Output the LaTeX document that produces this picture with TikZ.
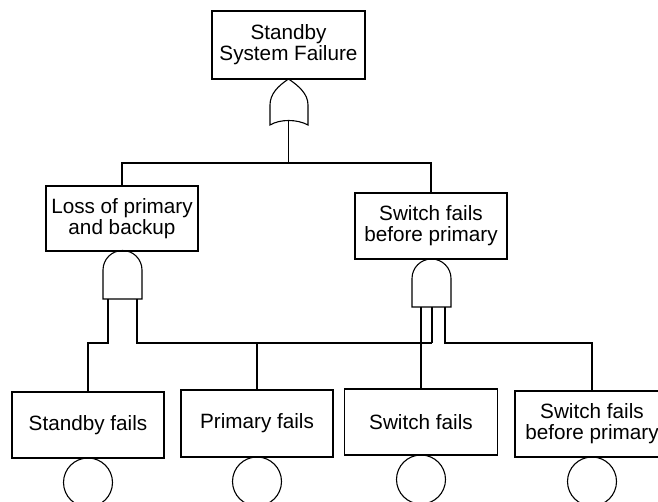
\documentclass[tikz,border=0pt]{standalone}
\usepackage{fontspec}
\setmainfont{Liberation Sans}
\begin{document}
\begin{tikzpicture}[x=1pt,y=-1pt, line width=1.1pt,
  box/.style={draw, rectangle, align=center, font=\fontsize{20.7}{21}\selectfont, inner sep=0pt, minimum width=152pt, minimum height=66pt},
  evt/.style={draw, circle, minimum size=49pt, inner sep=0pt},
  gate/.style={draw, line join=miter}]
\useasboundingbox (0,0) rectangle (658,502);
\clip (0,0) rectangle (658,502);
% boxes
\node[box, minimum width=153pt, minimum height=68pt] (top) at (288.5,45) {Standby\\System Failure};
\node[box, minimum height=65pt] (loss) at (122,218.5) {Loss of primary\\and backup};
\node[box] (sw) at (431,226) {Switch fails\\before primary};
\node[box] (sb) at (88,425) {Standby fails};
\node[box, minimum height=67pt] (pf) at (257,423.5) {Primary fails};
\node[box, minimum width=153pt] (swf) at (421,422) {Switch fails};
\node[box, minimum width=154pt] (sfb) at (592,424) {Switch fails\\before primary};
% basic events
\node[evt] (e1) at (88,482.5) {};
\node[evt] (e2) at (257,481.5) {};
\node[evt] (e3) at (421,479.5) {};
\node[evt] (e4) at (592,481.5) {};
% OR gate
\draw[gate] (288.5,79) .. controls (278,86) and (270,94) .. (270,105) -- (270,125)
  .. controls (280,119) and (297,119) .. (308,125) -- (308,105)
  .. controls (308,94) and (299,86) .. (288.5,79) -- cycle;
\coordinate (orout) at (288.5,120.5);
% AND gate 1
\draw[gate] (103,299) -- (103,270) arc (180:360:19.5) -- (142,299) -- cycle;
\coordinate (a1i1) at (108,299);
\coordinate (a1i2) at (137,299);
% AND gate 2
\draw[gate] (412,307) -- (412,278.5) arc (180:360:19.5) -- (451,307) -- cycle;
\coordinate (a2i1) at (421,307);
\coordinate (a2i2) at (432,307);
\coordinate (a2i3) at (445,307);
% wires
\coordinate (j1) at (288.5,163);
\coordinate (h) at (432,343);
\draw (orout) -- (j1);
\draw (loss.north) |- (j1) -| (sw.north);
\draw (a1i1) -- ++(0,44) -| (sb.north);
\draw (a1i2) |- (h);
\draw (a2i2) -- (h);
\draw (pf.north) -- (pf.north |- h);
\draw (a2i1) -- (swf.north);
\draw (a2i3) -- ++(0,36) -| (sfb.north);
\end{tikzpicture}
\end{document}
